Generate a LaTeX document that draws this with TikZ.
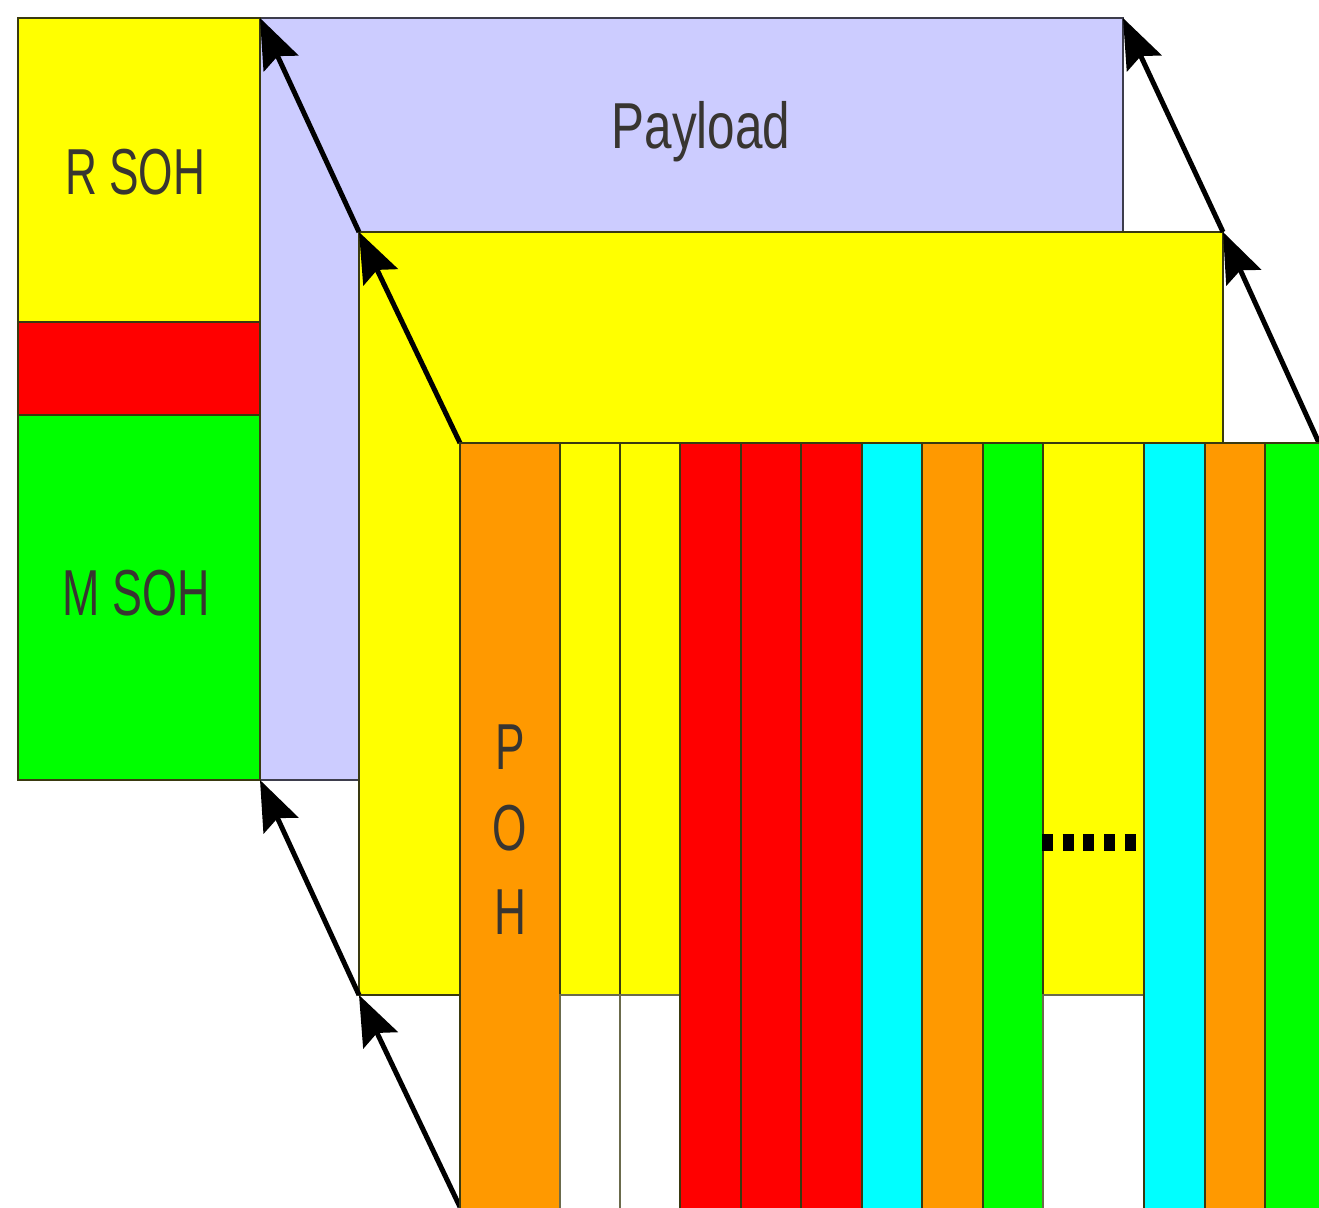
\documentclass[tikz,border=0pt]{standalone}
\usepackage{graphicx}
\usepackage{fontspec}
\setmainfont{Liberation Sans}
\usetikzlibrary{arrows.meta}
\definecolor{lilac}{HTML}{CCCCFF}
\definecolor{sorange}{HTML}{FF9900}
\definecolor{syellow}{HTML}{FFFF00}
\definecolor{sred}{HTML}{FF0000}
\definecolor{sgreen}{HTML}{00FF00}
\definecolor{scyan}{HTML}{00FFFF}
\definecolor{edge}{HTML}{3A3A10}
\tikzset{
  x=1pt,y=-1pt,
  cell/.style={draw=edge,line width=2.4pt,rectangle,inner sep=0pt,outer sep=0pt,anchor=north west},
  col/.style={cell,minimum width=#1,minimum height=780pt},
  yelcol/.style={cell,fill=syellow,minimum width=#1,minimum height=552pt},
  whitecol/.style={cell,fill=white,draw=edge!75,minimum width=#1,minimum height=230pt},
  link/.style={line width=5pt,-{Stealth[length=50pt,width=38pt,inset=8pt]}},
  lab/.style={inner sep=0pt,outer sep=0pt,font=\fontsize{65}{83}\selectfont,text=black!90!yellow},
}
\begin{document}
\begin{tikzpicture}
\clip (0,0) rectangle (1319,1207);
\fill[white] (0,0) rectangle (1319,1207);
% payload plane
\node[cell,fill=lilac,draw=black!70!lilac,minimum width=863pt,minimum height=762pt] (payload) at (260,18) {};
% section overhead
\node[cell,fill=syellow,minimum width=242pt,minimum height=304pt] (rsoh) at (18,18) {};
\node[cell,fill=sred,minimum width=242pt,minimum height=93pt] (mid) at (18,322) {};
\node[cell,fill=sgreen,minimum width=242pt,minimum height=365pt] (msoh) at (18,415) {};
% back yellow plane
\node[cell,fill=syellow,minimum width=864pt,minimum height=763pt] (back) at (359,232) {};
% front plane corners
\coordinate (ftl) at (460,443);
\coordinate (ftr) at (1319,443);
\coordinate (fbl) at (460,1207);
% links
\draw[link] (back.north west) -- (payload.north west);
\draw[link] (back.north east) -- (payload.north east);
\draw[link] (back.south west) -- (payload.south west);
\draw[link] (ftl) -- (back.north west);
\draw[link] (ftr) -- (back.north east);
\draw[link] (fbl) -- (back.south west);
% front columns
\node[col=100pt,fill=sorange] (poh) at (460,443) {};
\node[yelcol=60pt] (y1) at (560,443) {};
\node[whitecol=60pt] (w1) at (560,995) {};
\node[yelcol=60pt] (y2) at (620,443) {};
\node[whitecol=60pt] (w2) at (620,995) {};
\node[col=61pt,fill=sred] (r1) at (680,443) {};
\node[col=60pt,fill=sred] (r2) at (741,443) {};
\node[col=61pt,fill=sred] (r3) at (801,443) {};
\node[col=60pt,fill=scyan] (c1) at (862,443) {};
\node[col=61pt,fill=sorange] (o1) at (922,443) {};
\node[col=60pt,fill=sgreen] (g1) at (983,443) {};
\node[yelcol=101pt] (y3) at (1043,443) {};
\node[whitecol=101pt] (w3) at (1043,995) {};
\node[col=61pt,fill=scyan] (c2) at (1144,443) {};
\node[col=60pt,fill=sorange] (o2) at (1205,443) {};
\node[col=70pt,fill=sgreen] (g2) at (1265,443) {};
% ellipsis
\coordinate (da) at (1042,842);
\coordinate (db) at (1136,842);
\draw[line width=17pt,dash pattern=on 11pt off 9.7pt] (da) -- (db);
% labels
\node[lab] (lr) at (135,172) {\scalebox{0.68}[1]{R SOH}};
\node[lab] (lm) at (136,593) {\scalebox{0.69}[1]{M SOH}};
\node[lab] (lp) at (701,132) {\scalebox{0.76}[1]{Payload}};
\node[lab,anchor=center] (lh1) at (510,747) {\scalebox{0.68}[1]{P}};
\node[lab,anchor=center] (lh2) at (510,828) {\scalebox{0.68}[1]{O}};
\node[lab,anchor=center] (lh3) at (510,912) {\scalebox{0.68}[1]{H}};
\end{tikzpicture}
\end{document}
